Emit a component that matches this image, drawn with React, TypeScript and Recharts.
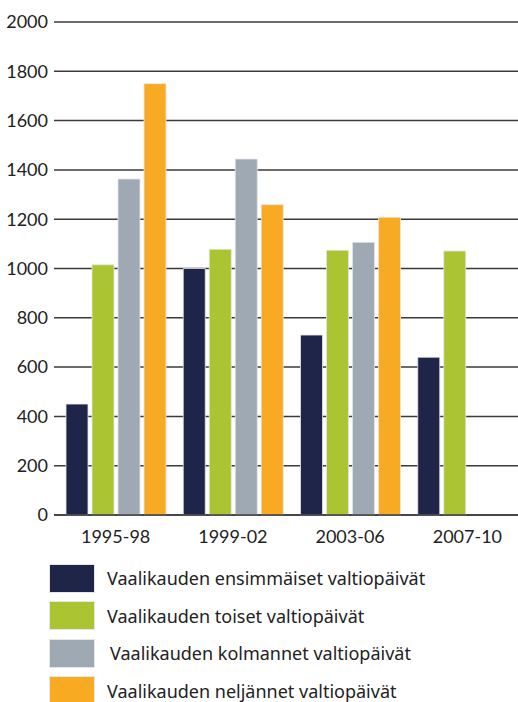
import React from 'react';
import { BarChart, Bar, XAxis, YAxis, CartesianGrid } from 'recharts';

const periods = ['1995-98', '1999-02', '2003-06', '2007-10'];
const ensimmaiset = [450, 1000, 730, 640];
const toiset = [1015, 1078, 1074, 1071];
const kolmannet = [1363, 1444, 1106, null];
const neljannet = [1750, 1259, 1208, null];
const yTicks = [0, 200, 400, 600, 800, 1000, 1200, 1400, 1600, 1800, 2000];
const edgeTicks = [0, 1, 2, 3, 4];

const series = [
  { key: 'ensimmaiset', name: 'Vaalikauden ensimmäiset valtiopäivät', color: '#1e2548', values: ensimmaiset },
  { key: 'toiset', name: 'Vaalikauden toiset valtiopäivät', color: '#aac432', values: toiset },
  { key: 'kolmannet', name: 'Vaalikauden kolmannet valtiopäivät', color: '#9ea9b4', values: kolmannet },
  { key: 'neljannet', name: 'Vaalikauden neljännet valtiopäivät', color: '#f8ab22', values: neljannet },
];

const data = periods.map((p, i) => {
  const row: Record<string, string | number | null> = { period: p };
  series.forEach((s) => {
    row[s.key] = s.values[i];
  });
  return row;
});

const FONT = 'Lato, "DejaVu Sans", sans-serif';

export default function App() {
  return (
    <div
      style={{
        position: 'absolute',
        left: 0,
        top: 0,
        width: 518,
        height: 702,
        overflow: 'hidden',
        background: '#fff',
        fontFamily: FONT,
      }}
    >
      <BarChart
        width={526}
        height={560}
        data={data}
        margin={{ top: 22, right: 0, bottom: 0, left: 0 }}
        barCategoryGap={9}
        barGap={4}
      >
        <CartesianGrid vertical={false} stroke="#3a3a3a" strokeWidth={1.5} />
        <XAxis
          xAxisId="edges"
          type="number"
          domain={[0, 4]}
          ticks={edgeTicks}
          tick={false}
          axisLine={false}
          tickLine={{ stroke: '#333', strokeWidth: 1.2 }}
          tickSize={5}
          height={6}
        />
        <XAxis
          xAxisId="cat"
          dataKey="period"
          axisLine={{ stroke: '#3a3a3a', strokeWidth: 1.5 }}
          tickLine={false}
          tickMargin={9}
          height={39}
          padding={{ left: 3, right: 0 }}
          tick={{ fill: '#222', fontSize: 18, fontFamily: FONT }}
        />
        <YAxis
          domain={[0, 2000]}
          ticks={yTicks}
          width={54}
          axisLine={false}
          tickLine={false}
          tickMargin={0}
          tick={{ fill: '#222', fontSize: 18, fontFamily: FONT }}
        />
        {series.map((s) => (
          <Bar
            key={s.key}
            xAxisId="cat"
            dataKey={s.key}
            name={s.name}
            fill={s.color}
            stroke="#e4e6ea"
            strokeWidth={0.8}
            isAnimationActive={false}
          />
        ))}
      </BarChart>
      <div style={{ position: 'absolute', left: 0, top: 559.5 }}>
        {series.map((s, i) => (
          <div
            key={s.key}
            style={{ display: 'flex', alignItems: 'center', height: 37.5 }}
          >
            <div
              style={{
                marginLeft: 50,
                width: 44,
                height: 27,
                background: s.color,
                boxShadow: '0 0 0 1px #e4e6ea',
              }}
            />
            <span
              style={{
                marginLeft: i === 2 ? 16 : 13,
                fontSize: 18,
                fontFamily: '"Noto Sans", sans-serif',
                color: '#222',
                whiteSpace: 'nowrap',
              }}
            >
              {s.name}
            </span>
          </div>
        ))}
      </div>
    </div>
  );
}
